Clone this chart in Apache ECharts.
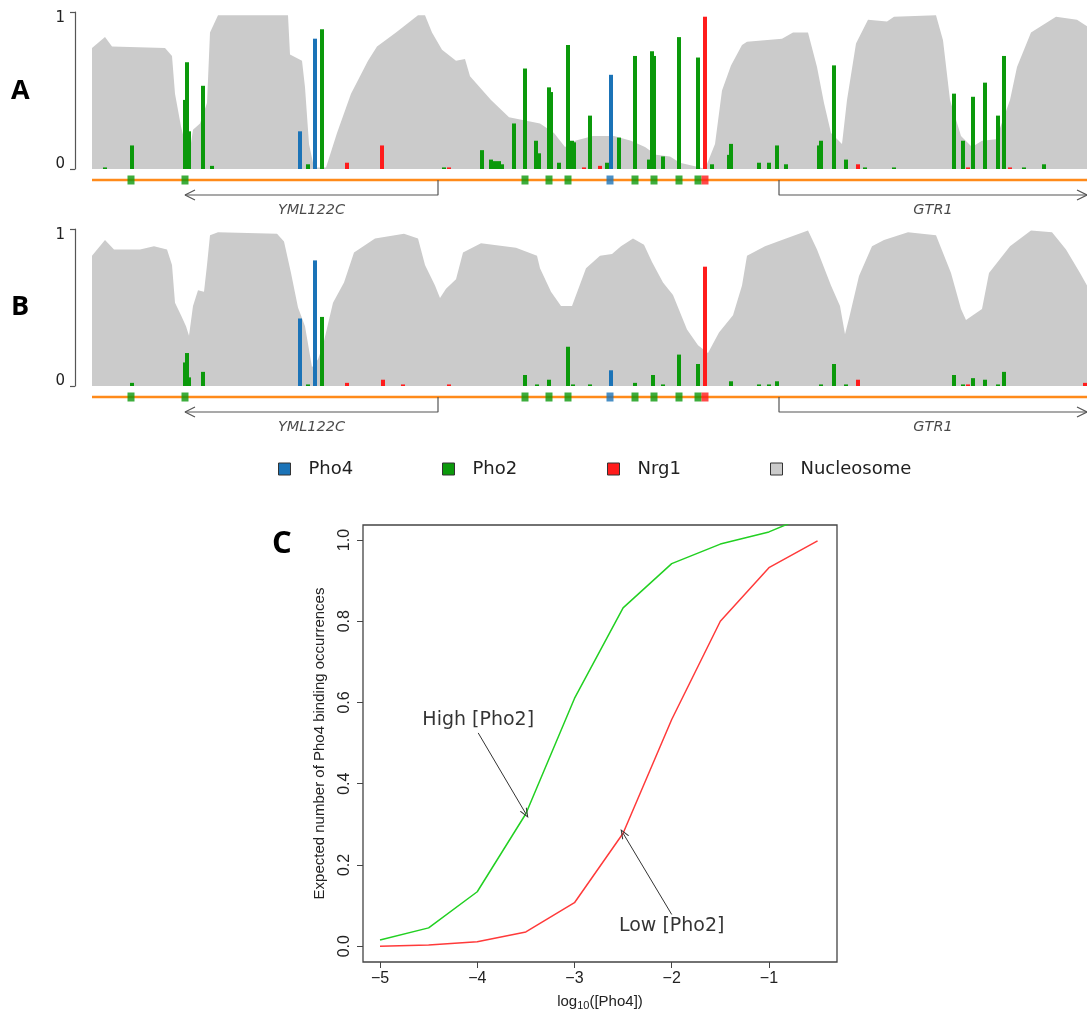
<!DOCTYPE html>
<html><head><meta charset="utf-8">
<script src="https://cdn.jsdelivr.net/npm/echarts@6/dist/echarts.min.js"></script>
<style>html,body{margin:0;padding:0;background:#fff}#c{width:1087px;height:1012px}</style>
</head><body><div id="c"></div>
<script>
// ---------- Panels A / B : locus position (arbitrary units 0..995) ----------
const LOCUS_MIN = -17;   // axis starts a little left of the first data point
const LOCUS_MAX = 995;

const nucA = [[0,0.77],[13,0.84],[20,0.78],[73,0.77],[80,0.72],[83,0.48],[89,0.27],[94,0.14],[97,0.08],[101,0.25],[108,0.29],[115,0.42],[118,0.87],[126,0.98],[196,0.98],[198,0.73],[210,0.69],[213,0.52],[217,0.16],[222,0.01],[234,0.01],[245,0.23],[259,0.48],[276,0.69],[285,0.78],[304,0.87],[326,0.98],[333,0.98],[340,0.87],[350,0.76],[364,0.69],[373,0.70],[378,0.59],[399,0.44],[417,0.33],[448,0.29],[462,0.23],[473,0.14],[483,0.18],[501,0.21],[522,0.21],[539,0.18],[553,0.14],[564,0.09],[578,0.08],[588,0.04],[608,0.01],[613,0.0],[623,0.16],[630,0.50],[639,0.66],[650,0.79],[655,0.81],[690,0.83],[701,0.87],[716,0.87],[725,0.65],[732,0.42],[739,0.23],[750,0.16],[755,0.44],[764,0.80],[776,0.95],[795,0.94],[802,0.97],[844,0.98],[851,0.82],[858,0.44],[869,0.21],[880,0.14],[890,0.18],[904,0.19],[918,0.44],[925,0.65],[939,0.87],[964,0.97],[985,0.95],[995,0.91]];

const nucB = [[0,0.83],[13,0.93],[22,0.87],[48,0.87],[62,0.89],[75,0.87],[80,0.77],[83,0.53],[89,0.45],[94,0.38],[97,0.32],[101,0.51],[106,0.61],[112,0.60],[115,0.77],[118,0.96],[126,0.98],[185,0.97],[192,0.92],[199,0.72],[206,0.50],[213,0.38],[220,0.12],[226,0.17],[231,0.26],[241,0.53],[252,0.66],[262,0.85],[283,0.94],[312,0.97],[326,0.94],[333,0.77],[343,0.64],[348,0.56],[354,0.62],[364,0.68],[371,0.85],[389,0.91],[424,0.88],[445,0.83],[448,0.75],[459,0.60],[469,0.51],[480,0.51],[494,0.75],[508,0.83],[520,0.84],[529,0.89],[541,0.94],[552,0.90],[560,0.79],[571,0.66],[581,0.58],[595,0.36],[606,0.26],[616,0.21],[627,0.34],[641,0.45],[650,0.64],[655,0.83],[673,0.89],[694,0.94],[716,0.99],[725,0.87],[739,0.64],[748,0.51],[753,0.33],[757,0.43],[767,0.70],[780,0.89],[792,0.93],[816,0.98],[844,0.96],[859,0.72],[869,0.49],[874,0.42],[890,0.49],[897,0.72],[918,0.89],[939,0.99],[960,0.98],[974,0.87],[988,0.72],[995,0.64]];

const pho4A = [[208,0.24],[223,0.83],[519,0.60]];
const pho2A = [[13,0.01],[40,0.15],[93,0.44],[95,0.68],[97,0.24],[111,0.53],[120,0.02],[216,0.03],[230,0.89],[352,0.01],[390,0.12],[399,0.06],[403,0.05],[407,0.05],[410,0.03],[422,0.29],[433,0.64],[444,0.18],[447,0.10],[457,0.52],[459,0.49],[467,0.04],[476,0.79],[480,0.18],[482,0.17],[498,0.34],[515,0.04],[527,0.20],[543,0.72],[557,0.06],[560,0.75],[562,0.72],[571,0.08],[587,0.84],[606,0.71],[620,0.03],[637,0.09],[639,0.16],[667,0.04],[677,0.04],[685,0.15],[694,0.03],[727,0.15],[729,0.18],[742,0.66],[754,0.06],[773,0.01],[802,0.01],[862,0.48],[871,0.18],[881,0.46],[893,0.55],[906,0.34],[912,0.72],[932,0.01],[952,0.03]];
const nrg1A = [[255,0.04],[290,0.15],[357,0.01],[492,0.01],[508,0.02],[613,0.97],[766,0.03],[876,0.01],[918,0.01]];

const pho4B = [[208,0.43],[223,0.80],[519,0.10]];
const pho2B = [[40,0.02],[93,0.15],[95,0.21],[97,0.055],[111,0.09],[216,0.01],[230,0.44],[433,0.07],[445,0.01],[457,0.04],[476,0.25],[481,0.01],[498,0.01],[543,0.02],[561,0.07],[571,0.01],[587,0.20],[606,0.14],[639,0.03],[667,0.01],[677,0.01],[685,0.03],[729,0.01],[742,0.14],[754,0.01],[862,0.07],[871,0.01],[881,0.05],[893,0.04],[906,0.01],[912,0.09]];
const nrg1B = [[255,0.02],[291,0.04],[311,0.01],[357,0.01],[613,0.76],[766,0.04],[876,0.01],[993,0.02]];

// binding sites drawn on the orange sequence line
const sitePos    = [39, 93, 433, 457, 476, 518, 543, 562, 587, 606, 613];
const siteFactor = ['Pho2','Pho2','Pho2','Pho2','Pho2','Pho4','Pho2','Pho2','Pho2','Pho2','Nrg1'];

// genes
const geneNames  = ['YML122C', 'GTR1'];
const geneStart  = [346, 687];
const geneEnd    = [93, 995];

const legendNames = ['Pho4', 'Pho2', 'Nrg1', 'Nucleosome'];

// ---------- Panel C ----------
const logPho4  = [-5, -4.5, -4, -3.5, -3, -2.5, -2, -1.5, -1, -0.5];
const highPho2 = [0.015, 0.045, 0.134, 0.326, 0.61, 0.833, 0.942, 0.99, 1.02, 1.07];
const lowPho2  = [0.0, 0.003, 0.011, 0.035, 0.107, 0.278, 0.558, 0.80, 0.932, 0.998];
const xTicksC = [-5, -4, -3, -2, -1];
const yTicksC = [0, 0.2, 0.4, 0.6, 0.8, 1.0];

// ---------- styles / layout ----------
const COL = {Pho4:'#1b73b7', Pho2:'#0b990b', Nrg1:'#ff1c1c', Nucleosome:'#cbcbcb'};
const ORANGE = '#ff8a1a';
const TRACK = {line:10, bracket:25, label:40, max:45};
const ARROW = 'path://M0,10 L5,0 L10,10 L8.6,10 L5,2.6 L1.4,10 Z';

const chart = echarts.init(document.getElementById('c'), null, {renderer:'canvas'});

const grids = [
  {left:75, top:12,  width:1012, height:157},   // A main
  {left:75, top:170, width:1012, height:45},    // A track
  {left:75, top:229, width:1012, height:157},   // B main
  {left:75, top:387, width:1012, height:45},    // B track
  {left:363, top:525, width:474, height:437, show:true, borderColor:'#444', borderWidth:1.3, backgroundColor:'transparent'} // C
];

const xAxes = [], yAxes = [];
[0,2].forEach(g => {
  xAxes[g] = {gridIndex:g, type:'value', min:LOCUS_MIN, max:LOCUS_MAX, show:false};
  yAxes[g] = {gridIndex:g, type:'value', min:0, max:1, interval:1,
    axisLine:{show:true, onZero:false, lineStyle:{color:'#555', width:1.2}},
    axisTick:{show:true, length:5, lineStyle:{color:'#555', width:1.2}},
    axisLabel:{margin:10, formatter: v => (v > 0 ? '{hi|' + v + '}' : '{lo|' + v + '}'),
      rich:{hi:{fontSize:15, color:'#222', fontFamily:'DejaVu Sans', padding:[12,0,0,0]},
            lo:{fontSize:15, color:'#222', fontFamily:'DejaVu Sans', padding:[0,0,10,0]}}},
    splitLine:{show:false}};
  xAxes[g+1] = {gridIndex:g+1, type:'value', min:LOCUS_MIN, max:LOCUS_MAX, show:false};
  yAxes[g+1] = {gridIndex:g+1, type:'value', min:0, max:TRACK.max, inverse:true, show:false};
});
xAxes[4] = {gridIndex:4, type:'value', min:-5.175, max:-0.30,
  axisLine:{show:false, onZero:false}, splitLine:{show:false},
  axisTick:{show:true, length:6, customValues:xTicksC, lineStyle:{color:'#444'}},
  axisLabel:{customValues:xTicksC, fontSize:16, color:'#222', margin:9, fontFamily:'Liberation Sans',
    formatter: v => (v < 0 ? '\u2212' + Math.abs(v) : String(v))},
  name:'{a|log}{s|10}{a|([Pho4])}', nameLocation:'middle', nameGap:30, nameMoveOverlap:false,
  nameTextStyle:{rich:{a:{fontSize:15, color:'#222', fontFamily:'Liberation Sans'},
                       s:{fontSize:11, color:'#222', fontFamily:'Liberation Sans', verticalAlign:'bottom', padding:[8,0,0,0]}}}};
yAxes[4] = {gridIndex:4, type:'value', min:-0.039, max:1.037,
  axisLine:{show:false, onZero:false}, splitLine:{show:false},
  axisTick:{show:true, length:6, customValues:yTicksC, lineStyle:{color:'#444'}},
  axisLabel:{customValues:yTicksC, rotate:90, fontSize:16, color:'#222', margin:10, fontFamily:'Liberation Sans',
    formatter: v => v.toFixed(1)},
  name:'Expected number of Pho4 binding occurrences', nameLocation:'middle', nameRotate:90, nameGap:36,
  nameTextStyle:{fontSize:15, color:'#222', fontFamily:'Liberation Sans'}};

const series = [];
function addPanel(gMain, gTrack, nuc, p4, p2, n1) {
  series.push({name:'Nucleosome', type:'line', xAxisIndex:gMain, yAxisIndex:gMain, data:nuc,
    symbol:'none', lineStyle:{width:0}, itemStyle:{color:COL.Nucleosome},
    areaStyle:{color:COL.Nucleosome, opacity:1}, z:1, silent:true});
  [['Pho4',p4],['Pho2',p2],['Nrg1',n1]].forEach(([nm, d]) => {
    series.push({name:nm, type:'bar', xAxisIndex:gMain, yAxisIndex:gMain, data:d,
      barWidth:4, barGap:'-100%', itemStyle:{color:COL[nm]}, z:3, silent:true});
  });
  series.push({type:'line', xAxisIndex:gTrack, yAxisIndex:gTrack, symbol:'none', silent:true,
    data:[[0,TRACK.line],[LOCUS_MAX,TRACK.line]], lineStyle:{color:ORANGE, width:2.5}, z:2});
  series.push({type:'scatter', xAxisIndex:gTrack, yAxisIndex:gTrack, symbol:'rect', symbolSize:[7,9], silent:true,
    data: sitePos.map((p,i) => ({value:[p, TRACK.line], itemStyle:{color:COL[siteFactor[i]]}})), z:4});
  geneNames.forEach((g,i) => {
    const s = geneStart[i], e = geneEnd[i], dir = e > s ? 1 : -1;
    series.push({type:'line', xAxisIndex:gTrack, yAxisIndex:gTrack, symbol:'none', silent:true, clip:false,
      data:[[s,TRACK.line],[s,TRACK.bracket],[e,TRACK.bracket]], lineStyle:{color:'#555', width:1.2}, z:3});
    series.push({type:'line', xAxisIndex:gTrack, yAxisIndex:gTrack, symbol:'none', silent:true, clip:false,
      data:[[e - dir*10, TRACK.bracket-5],[e,TRACK.bracket],[e - dir*10, TRACK.bracket+5]],
      lineStyle:{color:'#555', width:1.2}, z:3});
    series.push({type:'scatter', xAxisIndex:gTrack, yAxisIndex:gTrack, symbolSize:1, silent:true,
      itemStyle:{color:'transparent'}, data:[[(s+e)/2, TRACK.label]],
      label:{show:true, position:'inside', formatter:g, fontStyle:'italic', fontSize:14.5,
             color:'#1a1a1a', fontFamily:'DejaVu Sans'}});
  });
}
addPanel(0, 1, nucA, pho4A, pho2A, nrg1A);
addPanel(2, 3, nucB, pho4B, pho2B, nrg1B);

// Panel C
const annotHigh = {text:'High [Pho2]', at:[-3.99, 0.557], from:[-3.99, 0.525]};
const annotLow  = {text:'Low [Pho2]',  at:[-2.0, 0.050],  from:[-2.0, 0.078]};
const arrowLine = {color:'#333', width:1, type:'solid'};
series.push({name:'High [Pho2]', type:'line', xAxisIndex:4, yAxisIndex:4, symbol:'none', clip:true,
  data: logPho4.map((x,i)=>[x, highPho2[i]]), lineStyle:{color:'#22d022', width:1.5}, z:3,
  markLine:{silent:true, symbol:['none', ARROW], symbolSize:[8,10], lineStyle:arrowLine, label:{show:false},
    data:[[{coord:annotHigh.from},{coord:[logPho4[3], highPho2[3]]}]]}});
series.push({name:'Low [Pho2]', type:'line', xAxisIndex:4, yAxisIndex:4, symbol:'none', clip:true,
  data: logPho4.map((x,i)=>[x, lowPho2[i]]), lineStyle:{color:'#ff3a3a', width:1.5}, z:3,
  markLine:{silent:true, symbol:['none', ARROW], symbolSize:[8,10], lineStyle:arrowLine, label:{show:false},
    data:[[{coord:annotLow.from},{coord:[logPho4[5], lowPho2[5]]}]]}});
[annotHigh, annotLow].forEach(a => {
  series.push({type:'scatter', xAxisIndex:4, yAxisIndex:4, symbolSize:1, silent:true,
    itemStyle:{color:'transparent'}, data:[a.at],
    label:{show:true, position:'inside', formatter:a.text, fontSize:19, color:'#000', fontFamily:'DejaVu Sans'}});
});

const legendLeft = [278, 442, 607, 770];
const legends = legendNames.map((n,i) => ({
  data:[n], left:legendLeft[i], top:460, padding:0, icon:'rect', itemWidth:12, itemHeight:12,
  itemStyle:{borderColor:'#333', borderWidth:1},
  textStyle:{fontSize:18, color:'#222', fontFamily:'DejaVu Sans', padding:[0,0,0,13]},
  selectedMode:false
}));

chart.setOption({
  animation:false,
  backgroundColor:'#fff',
  grid:grids, xAxis:xAxes, yAxis:yAxes,
  legend:legends,
  series:series,
  graphic:[
    {type:'text', left:11,  top:78,  style:{text:'A', font:'bold 27px "Open Sans"', fill:'#000'}},
    {type:'text', left:11,  top:294, style:{text:'B', font:'bold 27px "Open Sans"', fill:'#000'}},
    {type:'text', left:272, top:529, style:{text:'C', font:'bold 31px "Open Sans"', fill:'#000'}}
  ]
});
</script></body></html>
